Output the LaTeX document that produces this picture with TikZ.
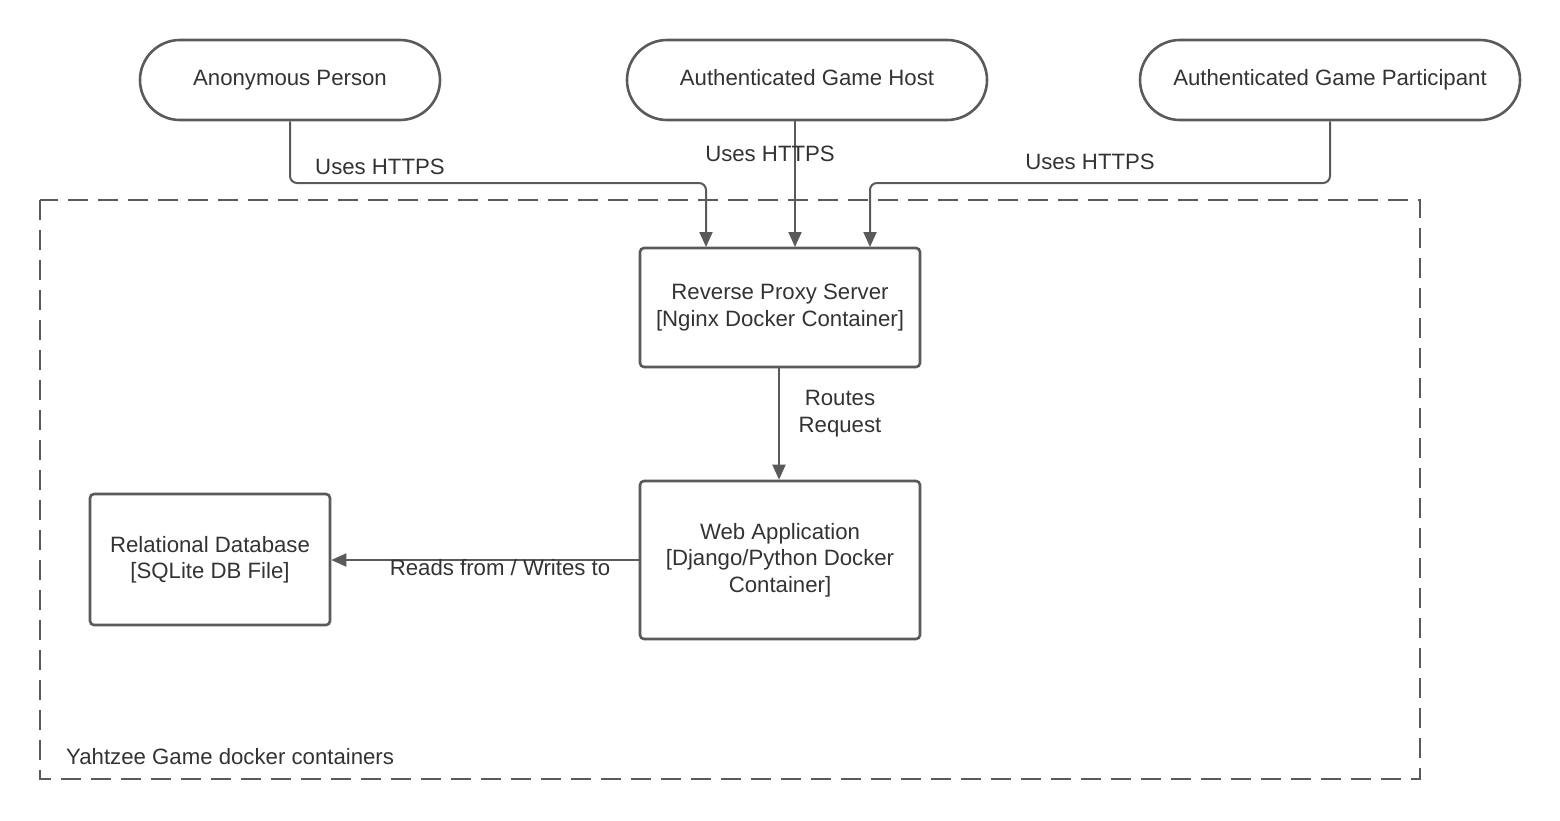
\documentclass[tikz,border=0pt]{standalone}
\usepackage{fontspec}
\setmainfont{Liberation Sans}
\usetikzlibrary{arrows.meta}
\definecolor{ln}{HTML}{5A5A5A}
\definecolor{tx}{HTML}{333333}
\tikzset{
  actor/.style={draw=ln, line width=2.6pt, rounded corners=40pt, minimum width=#1, minimum height=80pt, inner sep=0pt, text height=15pt, text depth=5pt, text=tx, font=\fontsize{22.2}{27}\selectfont},
  boxnode/.style={draw=ln, line width=2.6pt, rounded corners=4pt, inner sep=0pt, align=center, text=tx, font=\fontsize{22.2}{26.5}\selectfont},
  conn/.style={draw=ln, line width=2pt, rounded corners=7pt, -{Triangle[length=15pt,width=13pt]}},
  lbl/.style={text=tx, font=\fontsize{22.2}{27}\selectfont, align=center, inner sep=0pt},
  frame/.style={draw=ln, line width=2.4pt, dash pattern=on 20pt off 10pt}
}
\begin{document}
\begin{tikzpicture}[x=1pt,y=-1pt]
\useasboundingbox (0,0) rectangle (1560,820);
% frame
\draw[frame] (40,200) rectangle (1420,779);
\node[lbl, anchor=base west] (framelbl) at (66,764) {Yahtzee Game docker containers};
% actors
\node[actor=300pt] (anon) at (290,80) {Anonymous Person};
\node[actor=360pt] (host) at (807,80) {Authenticated Game Host};
\node[actor=380pt] (part) at (1330,80) {Authenticated Game Participant};
% boxes
\node[boxnode, minimum width=280pt, minimum height=119pt] (proxy) at (780,307.5) {Reverse Proxy Server\\{}[Nginx Docker Container]};
\node[boxnode, minimum width=280pt, minimum height=158pt] (web) at (780,560) {Web Application\\{}[Django/Python Docker\\Container]};
\node[boxnode, minimum width=240pt, minimum height=131pt] (db) at (210,559.5) {Relational Database\\{}[SQLite DB File]};
% connectors
\coordinate (p1) at (706,247);
\coordinate (p2) at (795,247);
\coordinate (p3) at (870,247);
\draw[conn] (anon.south -| 290,0) -- (290,183) -- (706,183) -- (p1);
\draw[conn] (host.south -| 795,0) -- (p2);
\draw[conn] (part.south) -- (1330,183) -- (870,183) -- (p3);
\draw[conn] (proxy.south -| 779,0) -- (web.north -| 779,0);
\draw[conn] (web.west |- 0,560) -- (db.east |- 0,560);
% labels
\node[lbl, anchor=base] (l1) at (380,174) {Uses HTTPS};
\node[lbl, anchor=base] (l2) at (770,161) {Uses HTTPS};
\node[lbl, anchor=base] (l3) at (1090,169) {Uses HTTPS};
\node[lbl, anchor=base] (l4) at (840,432) {Routes\\Request};
\node[lbl, anchor=base] (l5) at (500,575) {Reads from / Writes to};
\end{tikzpicture}
\end{document}
